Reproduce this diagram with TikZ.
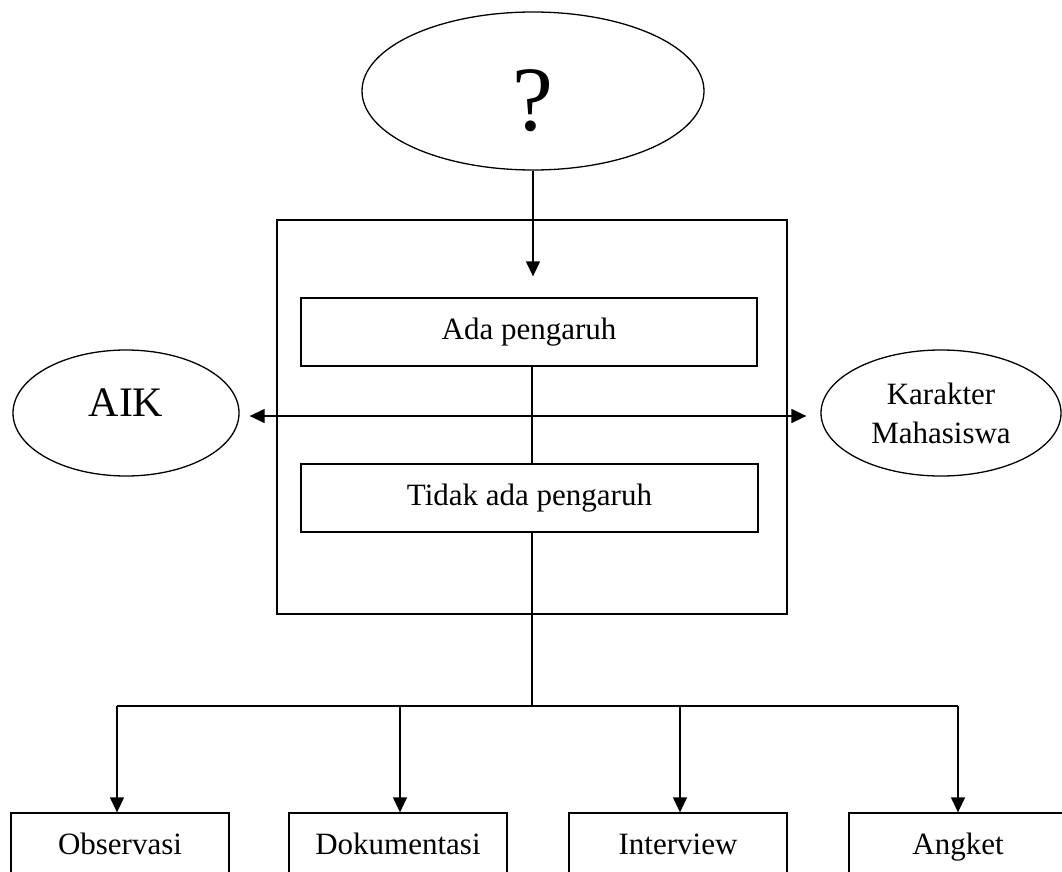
\documentclass[tikz,border=0pt]{standalone}
\usepackage{fontspec}
\setmainfont{Liberation Serif}
\usetikzlibrary{shapes.geometric,arrows.meta}
\begin{document}
\begin{tikzpicture}[x=1pt,y=-1pt, line width=1.3pt,
  box/.style={draw, rectangle, inner sep=0pt, font=\fontsize{31}{37}\selectfont, text height=22pt, text depth=7pt},
  oval/.style={draw, ellipse, inner sep=0pt},
  tip/.tip={Triangle[length=15pt,width=14pt]},
  arr/.style={-tip},
  darr/.style={tip-tip}]
\clip (0,0) rectangle (1062,872);
\useasboundingbox (0,0) rectangle (1062,872);
\node[oval, minimum width=342pt, minimum height=158pt, font=\fontsize{92}{96}\selectfont, text height=80pt, text depth=0pt] (q) at (533,91) {?};
\node[draw, rectangle, minimum width=510pt, minimum height=394pt, inner sep=0pt] (frame) at (532,417) {};
\node[box, minimum width=456pt, minimum height=68pt] (ada) at (529,332) {Ada pengaruh};
\node[box, minimum width=457pt, minimum height=68pt] (tidak) at (529.5,498) {Tidak ada pengaruh};
\node[oval, minimum width=226pt, minimum height=126pt, font=\fontsize{42}{48}\selectfont, text height=28pt, text depth=22pt] (aik) at (126,413) {AIK};
\node[oval, minimum width=240pt, minimum height=126pt, align=center, font=\fontsize{31}{39}\selectfont] (kar) at (941,413) {Karakter\\Mahasiswa};
\node[box, minimum width=218pt, minimum height=68pt] (obs) at (120,847) {Observasi};
\node[box, minimum width=218pt, minimum height=68pt] (dok) at (398,847) {Dokumentasi};
\node[box, minimum width=218pt, minimum height=68pt] (int) at (678,847) {Interview};
\node[box, minimum width=218pt, minimum height=68pt] (ang) at (958,847) {Angket};
\coordinate (hub) at (532,706);
\coordinate (mid) at (532,416);
\draw[arr] (q.south) -- ([yshift=21pt]q.south |- ada.north);
\draw (ada.south -| hub) -- (tidak.north -| hub);
\draw (tidak.south -| hub) -- (hub);
\draw[darr] ([xshift=10pt]aik.east |- mid) -- ([xshift=-14pt]kar.west |- mid);
\draw ([xshift=-3pt]obs.north |- hub) -- (ang.north |- hub);
\draw[arr] ([xshift=-3pt]obs.north |- hub) -- ([xshift=-3pt]obs.north);
\draw[arr] ([xshift=2pt]dok.north |- hub) -- ([xshift=2pt]dok.north);
\draw[arr] ([xshift=2pt]int.north |- hub) -- ([xshift=2pt]int.north);
\draw[arr] (ang.north |- hub) -- (ang.north);
\end{tikzpicture}
\end{document}
